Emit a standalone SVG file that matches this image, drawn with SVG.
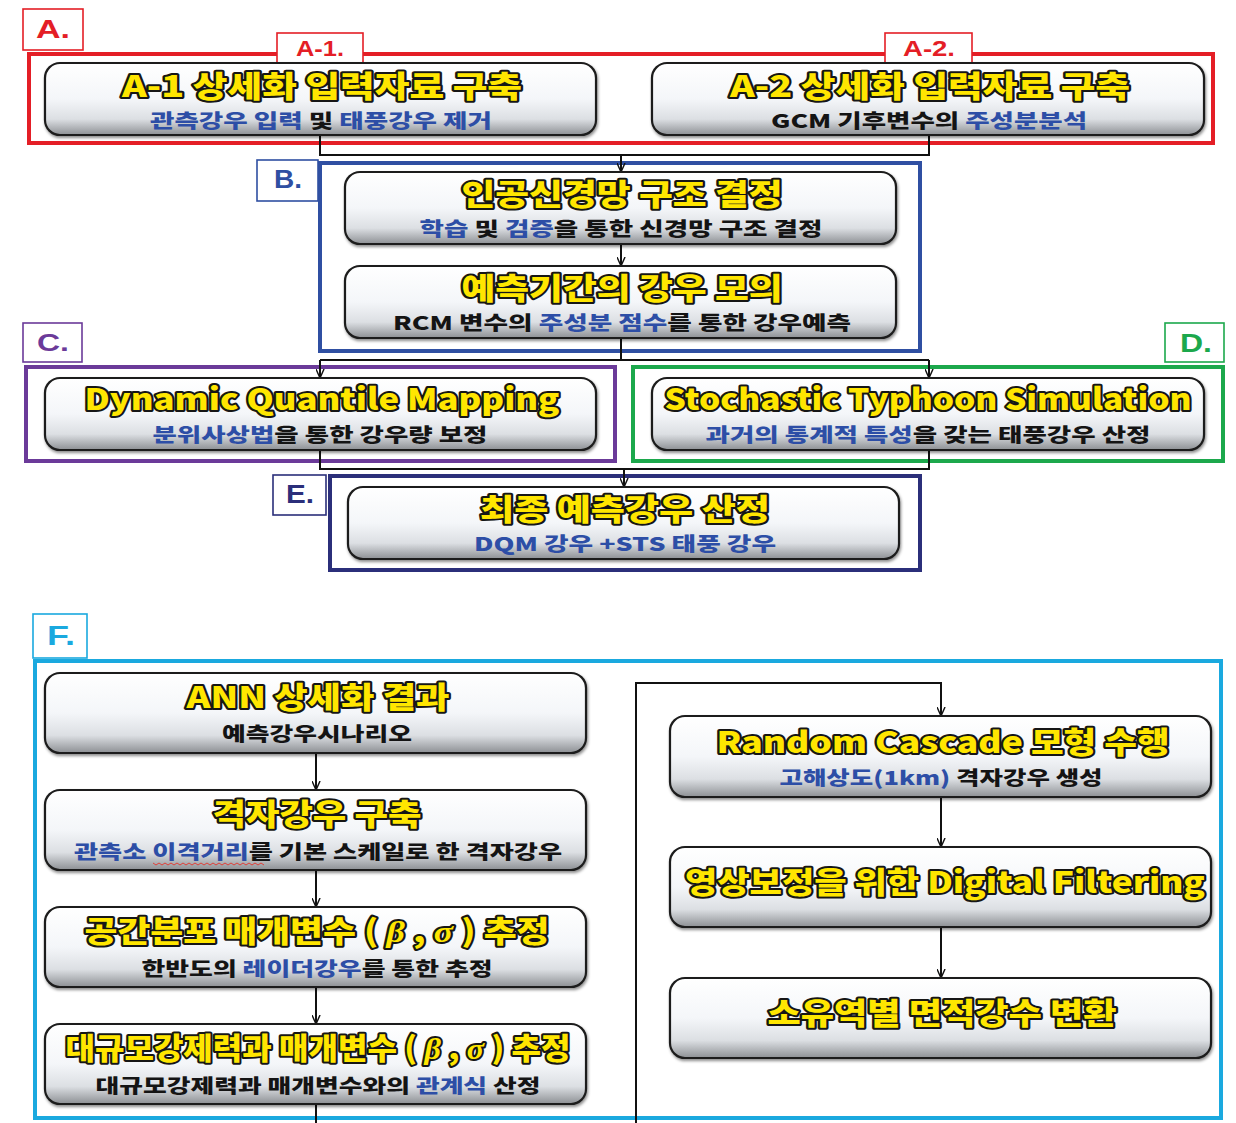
<svg xmlns="http://www.w3.org/2000/svg" width="1236" height="1123" viewBox="0 0 1236 1123">
<style>
.bg{fill:#ffffff}
.node{fill:url(#ng);stroke:#1e1e1e;stroke-width:2.2;filter:url(#sh)}
.t{font-family:"Noto Sans CJK KR","Noto Sans",sans-serif;font-weight:900;font-size:30px;fill:#ffe600;stroke:#161616;stroke-width:4;stroke-linejoin:round;paint-order:stroke fill;text-anchor:middle}
.s{font-family:"Noto Sans CJK KR","Noto Sans",sans-serif;font-weight:900;font-size:19px;fill:#141414;text-anchor:middle}
.b{fill:#2d4ea6}
.gk{font-family:"Liberation Serif",serif;font-style:italic}
.frame{fill:none;stroke-width:4}
.lab{fill:#ffffff;stroke-width:1.6}
.lt{font-family:"Liberation Sans","Noto Sans",sans-serif;font-weight:700;text-anchor:middle}
.con path{fill:none;stroke:#111;stroke-width:2}
.red{stroke:#e41e26}.redf{fill:#e41e26}
.blue{stroke:#2f4fa2}.bluef{fill:#2f4fa2}
.pur{stroke:#6b3a99}.purf{fill:#6b3a99}
.grn{stroke:#1ca84c}.grnf{fill:#1ca84c}
.nav{stroke:#2b2f7a}.navf{fill:#2b2f7a}
.cya{stroke:#1aa9df}.cyaf{fill:#1aa9df}
</style>
<defs>
<linearGradient id="ng" x1="0" y1="0" x2="0" y2="1">
<stop offset="0" stop-color="#ffffff"/>
<stop offset="0.5" stop-color="#f4f6f9"/>
<stop offset="0.78" stop-color="#dcdfe3"/>
<stop offset="1" stop-color="#8d9094"/>
</linearGradient>
<filter id="sh" x="-5%" y="-10%" width="110%" height="130%">
<feDropShadow dx="1" dy="2" stdDeviation="1.5" flood-color="#000" flood-opacity="0.45"/>
</filter>
<marker id="ar" viewBox="0 0 10 10" refX="10" refY="5" markerWidth="9" markerHeight="9" markerUnits="userSpaceOnUse" orient="auto">
<path d="M0,0.5 L10,5 L0,9.5" fill="none" stroke="#111" stroke-width="1.6"/>
</marker>
</defs>
<rect class="bg" x="0" y="0" width="1236" height="1123"/>

<g id="frames">
<rect class="frame red" x="29" y="54" width="1184" height="89"/>
<rect class="frame blue" x="320" y="163" width="600" height="188"/>
<rect class="frame pur" x="26" y="367" width="589" height="94"/>
<rect class="frame grn" x="633" y="367" width="590" height="94"/>
<rect class="frame nav" x="330" y="476" width="590" height="94"/>
<rect class="frame cya" x="35" y="661" width="1186" height="457"/>
</g>

<g id="labels">
<g id="lab-A"><rect class="lab red" x="23" y="9" width="60" height="41"/><text class="lt redf" x="53" y="38" font-size="26" textLength="34" lengthAdjust="spacingAndGlyphs">A.</text></g>
<g id="lab-A1"><rect class="lab red" x="277" y="33" width="86" height="30"/><text class="lt redf" x="320" y="56" font-size="22" textLength="48" lengthAdjust="spacingAndGlyphs">A-1.</text></g>
<g id="lab-A2"><rect class="lab red" x="885" y="33" width="87" height="30"/><text class="lt redf" x="929" y="56" font-size="22" textLength="52" lengthAdjust="spacingAndGlyphs">A-2.</text></g>
<g id="lab-B"><rect class="lab blue" x="257" y="160" width="61" height="41"/><text class="lt bluef" x="288" y="188" font-size="25" textLength="28" lengthAdjust="spacingAndGlyphs">B.</text></g>
<g id="lab-C"><rect class="lab pur" x="23" y="323" width="59" height="39"/><text class="lt purf" x="53" y="351" font-size="24" textLength="32" lengthAdjust="spacingAndGlyphs">C.</text></g>
<g id="lab-D"><rect class="lab grn" x="1165" y="323" width="59" height="39"/><text class="lt grnf" x="1196" y="352" font-size="25" textLength="32" lengthAdjust="spacingAndGlyphs">D.</text></g>
<g id="lab-E"><rect class="lab nav" x="273" y="475" width="53" height="40"/><text class="lt navf" x="300" y="503" font-size="25" textLength="28" lengthAdjust="spacingAndGlyphs">E.</text></g>
<g id="lab-F"><rect class="lab cya" x="33" y="614" width="54" height="44"/><text class="lt cyaf" x="61" y="645" font-size="28" textLength="28" lengthAdjust="spacingAndGlyphs">F.</text></g>
</g>

<g id="connectors" class="con">
<path d="M320,135 V155 H929 V135"/>
<path d="M621,155 V172" marker-end="url(#ar)"/>
<path d="M621,244 V266" marker-end="url(#ar)"/>
<path d="M621,338 V360"/>
<path d="M320,360 H929"/>
<path d="M320,360 V378" marker-end="url(#ar)"/>
<path d="M929,360 V378" marker-end="url(#ar)"/>
<path d="M320,450 V469 H929 V450"/>
<path d="M624,469 V487" marker-end="url(#ar)"/>
<path d="M316,753 V790" marker-end="url(#ar)"/>
<path d="M316,870 V907" marker-end="url(#ar)"/>
<path d="M316,987 V1024" marker-end="url(#ar)"/>
<path d="M316,1104 V1123"/>
<path d="M636,1123 V683 H941 V716" marker-end="url(#ar)"/>
<path d="M941,797 V847" marker-end="url(#ar)"/>
<path d="M941,927 V978" marker-end="url(#ar)"/>
</g>

<g id="node-A1">
<rect class="node" x="45" y="63" width="551" height="72" rx="15"/>
<text class="t" x="322" y="97" textLength="400" lengthAdjust="spacingAndGlyphs">A-1 상세화 입력자료 구축</text>
<text class="s" x="321" y="128" textLength="342" lengthAdjust="spacingAndGlyphs"><tspan class="b">관측강우 입력 </tspan>및<tspan class="b"> 태풍강우 제거</tspan></text>
</g>
<g id="node-A2">
<rect class="node" x="652" y="63" width="552" height="72" rx="15"/>
<text class="t" x="930" y="97" textLength="400" lengthAdjust="spacingAndGlyphs">A-2 상세화 입력자료 구축</text>
<text class="s" x="929" y="128" textLength="316" lengthAdjust="spacingAndGlyphs">GCM 기후변수의 <tspan class="b">주성분분석</tspan></text>
</g>
<g id="node-B1">
<rect class="node" x="345" y="172" width="551" height="72" rx="15"/>
<text class="t" x="622" y="205" textLength="321" lengthAdjust="spacingAndGlyphs">인공신경망 구조 결정</text>
<text class="s" x="621" y="236" textLength="403" lengthAdjust="spacingAndGlyphs"><tspan class="b">학습</tspan> 및 <tspan class="b">검증</tspan>을 통한 신경망 구조 결정</text>
</g>
<g id="node-B2">
<rect class="node" x="345" y="266" width="551" height="72" rx="15"/>
<text class="t" x="622" y="299" textLength="321" lengthAdjust="spacingAndGlyphs">예측기간의 강우 모의</text>
<text class="s" x="622" y="330" textLength="458" lengthAdjust="spacingAndGlyphs">RCM 변수의 <tspan class="b">주성분 점수</tspan>를 통한 강우예측</text>
</g>
<g id="node-C">
<rect class="node" x="45" y="378" width="551" height="72" rx="15"/>
<text class="t" x="322" y="410" textLength="475" lengthAdjust="spacingAndGlyphs">Dynamic Quantile Mapping</text>
<text class="s" x="320" y="442" textLength="335" lengthAdjust="spacingAndGlyphs"><tspan class="b">분위사상법</tspan>을 통한 강우량 보정</text>
</g>
<g id="node-D">
<rect class="node" x="652" y="378" width="552" height="72" rx="15"/>
<text class="t" x="928" y="410" textLength="527" lengthAdjust="spacingAndGlyphs">Stochastic Typhoon Simulation</text>
<text class="s" x="928" y="442" textLength="445" lengthAdjust="spacingAndGlyphs"><tspan class="b">과거의 통계적 특성</tspan>을 갖는 태풍강우 산정</text>
</g>
<g id="node-E">
<rect class="node" x="348" y="487" width="551" height="72" rx="15"/>
<text class="t" x="625" y="520" textLength="290" lengthAdjust="spacingAndGlyphs">최종 예측강우 산정</text>
<text class="s b" x="625" y="551" textLength="302" lengthAdjust="spacingAndGlyphs">DQM 강우 +STS 태풍 강우</text>
</g>

<g id="node-F1">
<rect class="node" x="45" y="673" width="541" height="80" rx="15"/>
<text class="t" x="318" y="708" textLength="263" lengthAdjust="spacingAndGlyphs">ANN 상세화 결과</text>
<text class="s" x="317" y="741" textLength="190" lengthAdjust="spacingAndGlyphs">예측강우시나리오</text>
</g>
<g id="node-F2">
<rect class="node" x="45" y="790" width="541" height="80" rx="15"/>
<text class="t" x="317" y="825" textLength="209" lengthAdjust="spacingAndGlyphs">격자강우 구축</text>
<text class="s" x="318" y="859" textLength="488" lengthAdjust="spacingAndGlyphs"><tspan class="b">관측소 이격거리</tspan>를 기본 스케일로 한 격자강우</text>
<path d="M153,863 l3,2 l3,-2 l3,2 l3,-2 l3,2 l3,-2 l3,2 l3,-2 l3,2 l3,-2 l3,2 l3,-2 l3,2 l3,-2 l3,2 l3,-2 l3,2 l3,-2 l3,2 l3,-2 l3,2 l3,-2 l3,2 l3,-2 l3,2 l3,-2 l3,2 l3,-2 l3,2 l3,-2 l3,2 l3,-2 l3,2 l3,-2 l3,2 l3,-2 l3,2" fill="none" stroke="#e0403a" stroke-width="1"/>
</g>
<g id="node-F3">
<rect class="node" x="45" y="907" width="541" height="80" rx="15"/>
<text class="t" x="317" y="942" textLength="465" lengthAdjust="spacingAndGlyphs">공간분포 매개변수 ( <tspan class="gk">β</tspan> , <tspan class="gk">σ</tspan> ) 추정</text>
<text class="s" x="317" y="976" textLength="351" lengthAdjust="spacingAndGlyphs">한반도의 <tspan class="b">레이더강우</tspan>를 통한 추정</text>
</g>
<g id="node-F4">
<rect class="node" x="45" y="1024" width="541" height="80" rx="15"/>
<text class="t" x="318" y="1059" textLength="505" lengthAdjust="spacingAndGlyphs">대규모강제력과 매개변수 ( <tspan class="gk">β</tspan> , <tspan class="gk">σ</tspan> ) 추정</text>
<text class="s" x="318" y="1093" textLength="445" lengthAdjust="spacingAndGlyphs">대규모강제력과 매개변수와의 <tspan class="b">관계식</tspan> 산정</text>
</g>
<g id="node-G1">
<rect class="node" x="670" y="716" width="541" height="81" rx="15"/>
<text class="t" x="943" y="753" textLength="453" lengthAdjust="spacingAndGlyphs">Random Cascade 모형 수행</text>
<text class="s" x="941" y="785" textLength="323" lengthAdjust="spacingAndGlyphs"><tspan class="b">고해상도(1km)</tspan> 격자강우 생성</text>
</g>
<g id="node-G2">
<rect class="node" x="670" y="847" width="541" height="80" rx="15"/>
<text class="t" x="945" y="893" textLength="520" lengthAdjust="spacingAndGlyphs">영상보정을 위한 Digital Filtering</text>
</g>
<g id="node-G3">
<rect class="node" x="670" y="978" width="541" height="80" rx="15"/>
<text class="t" x="942" y="1024" textLength="349" lengthAdjust="spacingAndGlyphs">소유역별 면적강수 변환</text>
</g>
</svg>
